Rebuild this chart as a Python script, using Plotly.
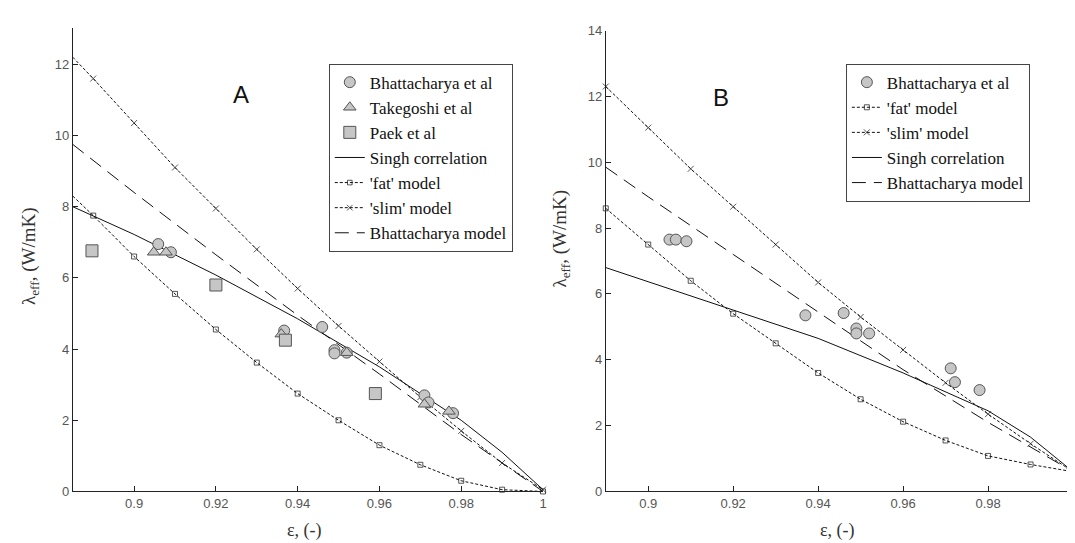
import plotly.graph_objects as go

# ---------------- Panel A data ----------------
a_model_x = [0.885, 0.89, 0.90, 0.91, 0.92, 0.93, 0.94, 0.95, 0.96, 0.97, 0.98, 0.99, 1.00]
a_fat_y = [8.30, 7.75, 6.60, 5.55, 4.55, 3.62, 2.75, 2.00, 1.30, 0.75, 0.30, 0.05, 0.00]
a_slim_y = [12.20, 11.60, 10.35, 9.10, 7.95, 6.80, 5.70, 4.65, 3.65, 2.65, 1.70, 0.80, 0.05]
a_singh_x = [0.885, 0.90, 0.92, 0.94, 0.96, 0.98, 0.99, 1.00]
a_singh_y = [8.00, 7.22, 6.08, 4.85, 3.50, 2.00, 1.10, 0.05]
a_bmodel_x = [0.885, 0.90, 0.92, 0.94, 0.96, 0.98, 1.00]
a_bmodel_y = [9.75, 8.40, 6.65, 4.95, 3.30, 1.60, 0.00]
a_bhat_x = [0.9059, 0.909, 0.9367, 0.946, 0.949, 0.949, 0.952, 0.971, 0.972, 0.978]
a_bhat_y = [6.95, 6.72, 4.52, 4.62, 3.97, 3.88, 3.90, 2.70, 2.50, 2.20]
a_take_x = [0.9048, 0.9078, 0.936, 0.952, 0.971, 0.977]
a_take_y = [6.72, 6.72, 4.42, 3.90, 2.45, 2.25]
a_paek_x = [0.8897, 0.920, 0.937, 0.959]
a_paek_y = [6.76, 5.80, 4.25, 2.75]

# ---------------- Panel B data ----------------
b_model_x = [0.89, 0.90, 0.91, 0.92, 0.93, 0.94, 0.95, 0.96, 0.97, 0.98, 0.99, 1.00]
b_fat_y = [8.60, 7.50, 6.40, 5.40, 4.50, 3.60, 2.80, 2.12, 1.55, 1.08, 0.82, 0.60]
b_slim_y = [12.30, 11.05, 9.80, 8.65, 7.50, 6.35, 5.30, 4.30, 3.30, 2.35, 1.45, 0.60]
b_singh_x = [0.89, 0.90, 0.92, 0.94, 0.96, 0.98, 0.99, 1.00]
b_singh_y = [6.80, 6.37, 5.52, 4.65, 3.60, 2.45, 1.65, 0.60]
b_bmodel_x = [0.89, 0.90, 0.92, 0.94, 0.96, 0.98, 1.00]
b_bmodel_y = [9.85, 8.95, 7.20, 5.45, 3.70, 2.10, 0.60]
b_bhat_x = [0.905, 0.9065, 0.909, 0.937, 0.946, 0.949, 0.949, 0.952, 0.9712, 0.9722, 0.978]
b_bhat_y = [7.65, 7.65, 7.60, 5.35, 5.42, 4.95, 4.80, 4.80, 3.74, 3.32, 3.08]

x_ticks = [0.9, 0.92, 0.94, 0.96, 0.98, 1.0]
x_ticktext = ["0.9", "0.92", "0.94", "0.96", "0.98", "1"]
a_y_ticks = [0, 2, 4, 6, 8, 10, 12]
b_y_ticks = [0, 2, 4, 6, 8, 10, 12, 14]

W, H = 1075, 543
SERIF = "Liberation Serif, Times New Roman, Times, DejaVu Serif, serif"
SANS = "Liberation Sans, Arial, sans-serif"
GRAY_FILL = "#c6c6c6"
EDGE = "#555555"
DOT = "3px,2px"

fig = go.Figure()


def add_panel(xa, ya, leg, bhat, extra_pts, singh, fat, slim, bmodel, model_x, first_no_marker, order):
    traces = {}
    traces["bhat"] = go.Scatter(x=bhat[0], y=bhat[1], mode="markers", name="Bhattacharya et al",
                                marker=dict(symbol="circle", size=11, color=GRAY_FILL, line=dict(color=EDGE, width=1)))
    for key, (nm, sym, xs, ys, sz) in extra_pts.items():
        traces[key] = go.Scatter(x=xs, y=ys, mode="markers", name=nm,
                                 marker=dict(symbol=sym, size=sz, color=GRAY_FILL, line=dict(color=EDGE, width=1)))
    traces["singh"] = go.Scatter(x=singh[0], y=singh[1], mode="lines", name="Singh correlation",
                                 line=dict(color="#111", width=1))
    sz_fat = [0 if (first_no_marker and i == 0) else 5 for i in range(len(model_x))]
    sz_slim = [0 if (first_no_marker and i == 0) else 6 for i in range(len(model_x))]
    traces["fat"] = go.Scatter(x=model_x, y=fat, mode="lines+markers", name="'fat' model",
                               line=dict(color="#111", width=1, dash=DOT),
                               marker=dict(symbol="square-open", size=sz_fat, color="#111", line=dict(width=1)))
    traces["slim"] = go.Scatter(x=model_x, y=slim, mode="lines+markers", name="'slim' model",
                                line=dict(color="#111", width=1, dash=DOT),
                                marker=dict(symbol="x-thin", size=sz_slim, color="#111", line=dict(width=1, color="#111")))
    traces["bmodel"] = go.Scatter(x=bmodel[0], y=bmodel[1], mode="lines", name="Bhattacharya model",
                                  line=dict(color="#111", width=1, dash="14px,8px"))
    draw_order = ["singh", "fat", "slim", "bmodel", "bhat"] + list(extra_pts.keys())
    for k in draw_order:
        t = traces[k]
        t.update(xaxis=xa, yaxis=ya, legend=leg, legendrank=order.index(k) + 1, cliponaxis=False)
        fig.add_trace(t)


add_panel("x", "y", "legend", (a_bhat_x, a_bhat_y),
          {"take": ("Takegoshi et al", "triangle-up", a_take_x, a_take_y, 11),
           "paek": ("Paek et al", "square", a_paek_x, a_paek_y, 12)},
          (a_singh_x, a_singh_y), a_fat_y, a_slim_y, (a_bmodel_x, a_bmodel_y), a_model_x, True,
          ["bhat", "take", "paek", "singh", "fat", "slim", "bmodel"])

add_panel("x2", "y2", "legend2", (b_bhat_x, b_bhat_y), {},
          (b_singh_x, b_singh_y), b_fat_y, b_slim_y, (b_bmodel_x, b_bmodel_y), b_model_x, False,
          ["bhat", "fat", "slim", "singh", "bmodel"])

axis_common = dict(showgrid=False, zeroline=False, showline=True, linecolor="#222", linewidth=1,
                   ticks="inside", ticklen=5, tickcolor="#222", ticklabeloverflow="allow",
                   tickfont=dict(family=SANS, size=13, color="#555"))

fig.update_layout(
    width=W, height=H,
    margin=dict(l=0, r=0, t=0, b=0),
    plot_bgcolor="white", paper_bgcolor="white",
    xaxis=dict(domain=[65 / W, 537 / W], range=[0.885, 1.0], tickvals=x_ticks, ticktext=x_ticktext,
               anchor="y", **axis_common),
    yaxis=dict(domain=[1 - 490 / H, 1 - 13 / H], range=[0, 13.03], tickvals=a_y_ticks,
               anchor="x", **axis_common),
    xaxis2=dict(domain=[600 / W, 1069 / W], range=[0.89, 1.0], tickvals=x_ticks, ticktext=x_ticktext,
                anchor="y2", **axis_common),
    yaxis2=dict(domain=[1 - 490 / H, 1 - 16 / H], range=[0, 14], tickvals=b_y_ticks,
                anchor="x2", **axis_common),
    legend=dict(x=322 / W, y=1 - 50 / H, xanchor="left", yanchor="top",
                bgcolor="white", bordercolor="#444", borderwidth=1,
                font=dict(family=SERIF, size=17, color="#111"), tracegroupgap=0),
    legend2=dict(x=841 / W, y=1 - 50 / H, xanchor="left", yanchor="top",
                 bgcolor="white", bordercolor="#444", borderwidth=1,
                 font=dict(family=SERIF, size=17, color="#111"), tracegroupgap=0),
    showlegend=True,
)

ann_common = dict(xref="paper", yref="paper", showarrow=False, xanchor="center", yanchor="middle")
fig.add_annotation(text="A", x=234 / W, y=1 - 82 / H, font=dict(family=SANS, size=24, color="#111"), **ann_common)
fig.add_annotation(text="B", x=716 / W, y=1 - 85 / H, font=dict(family=SANS, size=24, color="#111"), **ann_common)
fig.add_annotation(text="ε, (-)", x=298 / W, y=1 - 530 / H, font=dict(family=SERIF, size=18, color="#333"), **ann_common)
fig.add_annotation(text="ε, (-)", x=833 / W, y=1 - 530 / H, font=dict(family=SERIF, size=18, color="#333"), **ann_common)
fig.add_annotation(text="λ<sub>eff</sub>, (W/mK)", x=22 / W, y=1 - 248 / H, textangle=-90,
                   font=dict(family=SERIF, size=19, color="#333"), **ann_common)
fig.add_annotation(text="λ<sub>eff</sub>, (W/mK)", x=555 / W, y=1 - 230 / H, textangle=-90,
                   font=dict(family=SERIF, size=19, color="#333"), **ann_common)

fig.write_html("out.html")
